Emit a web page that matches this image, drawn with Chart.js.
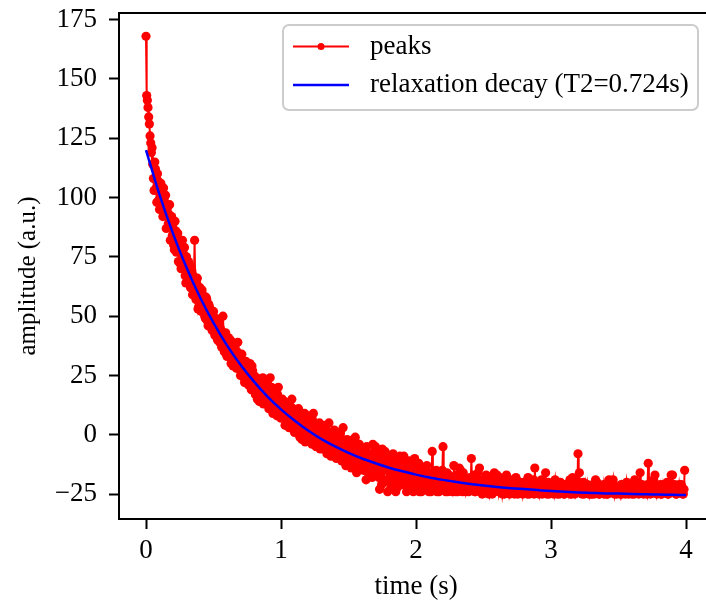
<!DOCTYPE html>
<html>
<head>
<meta charset="utf-8">
<script src="https://cdn.jsdelivr.net/npm/chart.js@4.4.1/dist/chart.umd.min.js"></script>
<style>
  html, body { margin: 0; padding: 0; background: #ffffff; }
  canvas { display: block; }
</style>
</head>
<body>
<canvas id="decayChart" width="706" height="603"></canvas>
<script>
// echo peak amplitudes, one sample every 5 ms starting at t = 0 (one row = 0.1 s)
var sampleStep = 0.005;
var peakValues = [
  168, 143, 141, 138, 134, 131, 126, 123, 119, 121, 114, 108, 103, 115, 112, 104, 98, 110, 107, 99,
  95, 103, 106, 97, 98, 92, 104, 99, 93, 101, 87, 95, 96, 89, 93, 97, 82, 90, 92, 84,
  89, 80, 78, 90, 86, 77, 84, 85, 73, 79, 81, 72, 70, 77, 82, 74, 76, 79, 67, 64,
  75, 68, 64, 73, 72, 65, 62, 70, 69, 59, 67, 66, 82, 61, 57, 64, 66, 53, 54, 62,
  62, 55, 52, 61, 59, 53, 56, 50, 49, 58, 57, 48, 46, 55, 54, 52, 51, 45, 44, 50,
  52, 45, 42, 49, 49, 41, 40, 47, 47, 39, 45, 44, 37, 40, 50, 43, 35, 38, 43, 34,
  33, 38, 41, 34, 36, 40, 30, 35, 39, 29, 31, 36, 37, 32, 28, 35, 39, 28, 33, 31,
  25, 31, 34, 28, 27, 24, 22, 30, 31, 26, 29, 23, 21, 28, 30, 25, 19, 29, 27, 21,
  25, 20, 17, 23, 24, 15, 19, 21, 14, 18, 23, 16, 21, 24, 13, 19, 22, 14, 16, 18,
  19, 14, 11, 17, 24, 12, 20, 15, 9, 18, 16, 10, 13, 14, 8, 17, 20, 11, 12, 8,
  7, 12, 15, 8, 10, 14, 4, 7, 13, 5, 9, 11, 3, 8, 12, 4, 15, 9, 11, 2,
  1, 6, 9, 3, 5, 8, 11, 2, -1, 5, 7, -2, 2, 4, 6, 9, -3, 1, 4, -1,
  8, 2, -2, 5, 3, -1, -4, 6, 9, 3, 1, -3, -5, 2, 4, -2, 0, 5, -6, 1,
  2, -3, -6, 4, -1, -5, 3, 0, -8, -2, -3, 5, 1, -6, -9, -1, -2, -4, -7, 2,
  0, -6, -10, -3, -4, -9, -7, -1, 1, -5, -11, -8, 3, -4, -8, -10, -13, -6, -2, -12,
  -9, -5, -3, -12, -14, -8, -6, -2, -11, -10, -1, -7, -16, -13, -7, -5, -4, -11, -13, -8,
  -6, -11, -15, -7, -9, -13, -19, -5, -14, -16, -12, -9, -17, -12, -8, -18, -4, -14, -10, -7,
  -5, -13, -16, -9, -11, -18, -23, -14, -8, -21, -6, -11, -20, -15, -7, -10, -13, -19, -24, -12,
  -10, -14, -17, -20, -22, -12, -8, -17, -15, -11, -24, -18, -12, -22, -19, -13, -9, -21, -16, -12,
  -21, -16, -9, -19, -13, -12, -24, -17, -18, -22, -11, -15, -20, -23, -14, -18, -24, -13, -10, -20,
  -15, -19, -22, -17, -12, -24, -19, -14, -24, -21, -14, -19, -18, -16, -23, -22, -13, -18, -20, -24,
  -16, -21, -24, -18, -7, -23, -19, -16, -22, -20, -15, -24, -21, -17, -24, -19, -17, -23, -20, -15,
  -5, -22, -21, -18, -24, -20, -16, -24, -20, -17, -23, -21, -18, -23, -24, -19, -13, -22, -21, -24,
  -17, -22, -24, -19, -14, -23, -15, -20, -19, -24, -16, -18, -22, -21, -24, -23, -20, -19, -24, -22,
  -18, -22, -10, -20, -23, -19, -17, -24, -24, -21, -20, -23, -16, -19, -14, -22, -22, -24, -25, -20,
  -19, -23, -24, -21, -17, -20, -22, -24, -25, -22, -18, -19, -21, -25, -24, -20, -16, -23, -23, -21,
  -17, -22, -24, -20, -18, -24, -23, -21, -25, -23, -19, -25, -22, -20, -17, -23, -24, -22, -21, -25,
  -24, -22, -19, -24, -22, -20, -25, -23, -18, -21, -23, -25, -20, -22, -24, -20, -21, -23, -25, -22,
  -20, -23, -24, -21, -22, -25, -18, -22, -25, -20, -21, -24, -23, -22, -19, -25, -14, -21, -24, -23,
  -21, -24, -25, -22, -22, -20, -19, -25, -24, -21, -23, -24, -16, -22, -25, -23, -20, -25, -22, -21,
  -24, -22, -21, -24, -25, -21, -19, -23, -23, -25, -22, -20, -25, -23, -20, -24, -24, -21, -22, -25,
  -25, -23, -21, -24, -23, -21, -24, -22, -19, -25, -25, -23, -18, -21, -24, -25, -20, -22, -23, -24,
  -8, -20, -16, -23, -22, -24, -25, -22, -20, -25, -23, -21, -24, -23, -21, -24, -25, -22, -22, -25,
  -23, -25, -21, -22, -25, -24, -19, -23, -20, -21, -23, -25, -25, -22, -22, -24, -24, -23, -21, -25,
  -24, -21, -22, -25, -25, -23, -19, -22, -23, -24, -24, -21, -19, -23, -25, -22, -22, -25, -24, -23,
  -23, -24, -25, -22, -21, -25, -24, -23, -22, -21, -25, -24, -20, -22, -23, -25, -24, -21, -22, -24,
  -25, -23, -22, -25, -19, -22, -21, -24, -23, -21, -25, -23, -16, -24, -22, -21, -24, -25, -23, -22,
  -22, -24, -25, -21, -12, -23, -21, -25, -24, -22, -23, -24, -19, -21, -17, -23, -22, -25, -24, -22,
  -24, -22, -21, -25, -25, -23, -23, -21, -22, -24, -24, -22, -20, -25, -25, -23, -23, -21, -17, -24,
  -17, -23, -24, -21, -22, -25, -25, -22, -23, -24, -21, -23, -24, -21, -22, -25, -25, -23, -15
];

// fitted relaxation curve, read every 0.1 s
var fitStep = 0.1;
var fitValues = [
  120.0, 101.2, 84.8, 70.5, 58.0, 47.2, 37.7, 29.5, 22.4, 16.1,
  10.7, 6.0, 1.8, -1.8, -4.9, -7.6, -10.0, -12.0, -13.9, -15.4,
  -16.8, -18.0, -19.0, -19.9, -20.7, -21.4, -22.0, -22.5, -22.9, -23.3,
  -23.7, -24.0, -24.3, -24.5, -24.7, -24.8, -25.0, -25.1, -25.2, -25.3,
  -25.4
];

var peakLabel = "peaks";
var fitLabel = "relaxation decay (T2=0.724s)";
var xTitle = "time (s)";
var yTitle = "amplitude (a.u.)";

var xTicks = [0, 1, 2, 3, 4];
var yTicks = [-25, 0, 25, 50, 75, 100, 125, 150, 175];

var serif = '"Liberation Serif", "Times New Roman", "DejaVu Serif", serif';
Chart.defaults.font.family = serif;
Chart.defaults.font.size = 27;
Chart.defaults.color = "#000";

var peakPoints = peakValues.map(function (v, i) {
  return { x: i * sampleStep, y: v };
});
var fitPoints = fitValues.map(function (v, i) {
  return { x: i * fitStep, y: v };
});

function minusSign(v) {
  return v < 0 ? "\u2212" + Math.abs(v) : String(v);
}

// top spine, axis titles and a matplotlib style legend box
var framePlugin = {
  id: "frame",
  afterDraw: function (chart) {
    var ctx = chart.ctx;
    var area = chart.chartArea;
    var xs = chart.scales.x;
    ctx.save();
    ctx.strokeStyle = "#000";
    ctx.lineWidth = 2;
    ctx.beginPath();
    ctx.moveTo(area.left - 1, area.top);
    ctx.lineTo(area.right, area.top);
    ctx.stroke();

    ctx.fillStyle = "#000";
    ctx.textAlign = "center";
    ctx.textBaseline = "middle";
    ctx.font = "27px " + serif;
    ctx.fillText(xTitle, xs.getPixelForValue(2), 587);
    ctx.save();
    ctx.translate(28, 276);
    ctx.rotate(-Math.PI / 2);
    ctx.font = "25px " + serif;
    ctx.fillText(yTitle, 0, 0);
    ctx.restore();

    var bx = 283, by = 25, bw = 415, bh = 85, r = 6;
    ctx.beginPath();
    ctx.moveTo(bx + r, by);
    ctx.lineTo(bx + bw - r, by);
    ctx.arcTo(bx + bw, by, bx + bw, by + r, r);
    ctx.lineTo(bx + bw, by + bh - r);
    ctx.arcTo(bx + bw, by + bh, bx + bw - r, by + bh, r);
    ctx.lineTo(bx + r, by + bh);
    ctx.arcTo(bx, by + bh, bx, by + bh - r, r);
    ctx.lineTo(bx, by + r);
    ctx.arcTo(bx, by, bx + r, by, r);
    ctx.closePath();
    ctx.fillStyle = "rgba(255,255,255,0.8)";
    ctx.fill();
    ctx.strokeStyle = "#cccccc";
    ctx.lineWidth = 2;
    ctx.stroke();

    var rows = [chart.data.datasets[0], chart.data.datasets[1]];
    var rowY = [46.5, 85];
    ctx.font = "27px " + serif;
    ctx.textBaseline = "middle";
    ctx.textAlign = "left";
    rows.forEach(function (ds, i) {
      ctx.strokeStyle = ds.borderColor;
      ctx.lineWidth = ds.borderWidth;
      ctx.beginPath();
      ctx.moveTo(293, rowY[i]);
      ctx.lineTo(349, rowY[i]);
      ctx.stroke();
      if (ds.pointRadius > 0) {
        ctx.fillStyle = ds.pointBackgroundColor;
        ctx.beginPath();
        ctx.arc(321, rowY[i], 3.5, 0, Math.PI * 2);
        ctx.fill();
      }
      ctx.fillStyle = "#000";
      ctx.fillText(ds.label, 370, rowY[i]);
    });
    ctx.restore();
  }
};

new Chart(document.getElementById("decayChart"), {
  type: "line",
  data: {
    datasets: [
      {
        label: peakLabel,
        data: peakPoints,
        borderColor: "#ff0000",
        backgroundColor: "#ff0000",
        borderWidth: 2,
        pointRadius: 4.6,
        pointBorderWidth: 0,
        pointBackgroundColor: "#ff0000",
        tension: 0,
        order: 1,
      },
      {
        label: fitLabel,
        data: fitPoints,
        borderColor: "#0000ff",
        backgroundColor: "#0000ff",
        borderWidth: 2.5,
        pointRadius: 0,
        cubicInterpolationMode: "monotone",
        order: 0,
      },
    ],
  },
  options: {
    responsive: false,
    animation: false,
    devicePixelRatio: 1,
    layout: {
      autoPadding: false,
      padding: { top: 13, left: 0, right: 0, bottom: 0 },
    },
    plugins: {
      legend: { display: false },
      tooltip: { enabled: false },
    },
    scales: {
      x: {
        type: "linear",
        min: -0.2,
        max: 4.148,
        afterBuildTicks: function (scale) {
          scale.ticks = xTicks.map(function (v) { return { value: v }; });
        },
        afterFit: function (scale) {
          scale.height = 84;
          scale.paddingLeft = 0;
          scale.paddingRight = 0;
        },
        ticks: {
          padding: 6,
          color: "#000",
          font: { size: 27 },
          maxRotation: 0,
          autoSkip: false,
        },
        grid: {
          drawOnChartArea: false,
          drawTicks: true,
          tickLength: 10,
          tickWidth: 2,
          tickColor: "#000",
        },
        border: { display: true, color: "#000", width: 2 },
      },
      y: {
        type: "linear",
        min: -35.5,
        max: 177.8,
        afterBuildTicks: function (scale) {
          scale.ticks = yTicks.map(function (v) { return { value: v }; });
        },
        afterFit: function (scale) {
          scale.width = 119;
          scale.paddingTop = 0;
          scale.paddingBottom = 0;
        },
        ticks: {
          padding: 12,
          color: "#000",
          font: { size: 27 },
          callback: function (v) { return minusSign(v); },
        },
        grid: {
          drawOnChartArea: false,
          drawTicks: true,
          tickLength: 10,
          tickWidth: 2,
          tickColor: "#000",
        },
        border: { display: true, color: "#000", width: 2 },
      },
    },
  },
  plugins: [framePlugin],
});
</script>
</body>
</html>
